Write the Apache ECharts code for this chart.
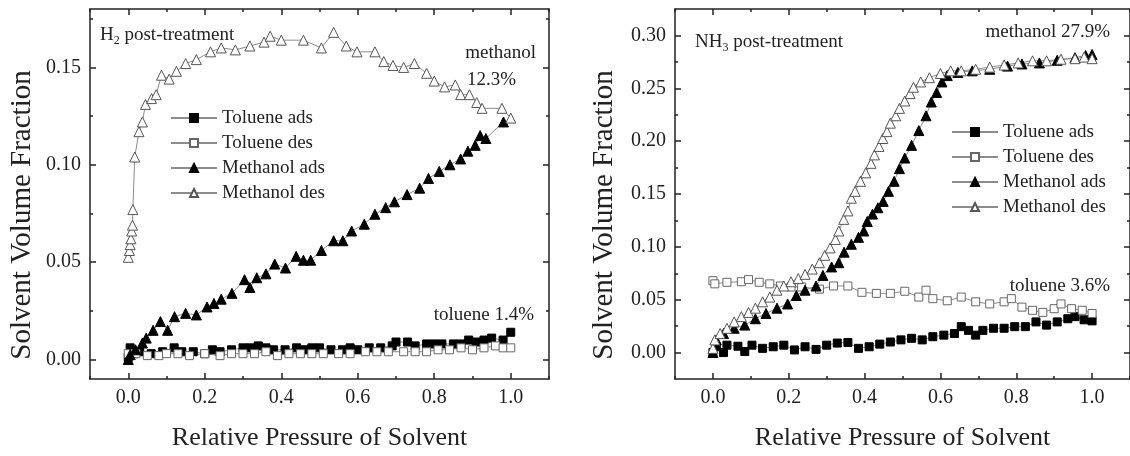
<!DOCTYPE html>
<html>
<head>
<meta charset="utf-8">
<script src="https://cdn.jsdelivr.net/npm/echarts@6/dist/echarts.min.js"></script>
<style>
  html, body { margin: 0; padding: 0; background: #fff; }
  #main { width: 1130px; height: 456px; }
</style>
</head>
<body>
<div id="main"></div>
<script>
// tick values
const xMajor = [0, 0.2, 0.4, 0.6, 0.8, 1.0];
const xMinor = [-0.1, 0.1, 0.3, 0.5, 0.7, 0.9, 1.1];
const yMajorH2 = [0, 0.05, 0.10, 0.15];
const yMinorH2 = [0.025, 0.075, 0.125, 0.175];
const yMajorNH3 = [0, 0.05, 0.10, 0.15, 0.20, 0.25, 0.30];
const yMinorNH3 = [0.025, 0.075, 0.125, 0.175, 0.225, 0.275];

const seriesNames = ["Toluene ads", "Toluene des", "Methanol ads", "Methanol des"];

// H2 post-treatment panel
const h2TolueneAds = [[0,0.001],[0.005,0.006],[0.015,0.003],[0.03,0.004],[0.06,0.003],[0.09,0.004],[0.12,0.006],[0.14,0.004],[0.17,0.004],[0.2,0.003],[0.22,0.005],[0.24,0.004],[0.27,0.005],[0.3,0.006],[0.32,0.006],[0.34,0.007],[0.36,0.006],[0.38,0.005],[0.41,0.005],[0.44,0.006],[0.46,0.005],[0.48,0.006],[0.5,0.006],[0.53,0.005],[0.56,0.005],[0.58,0.006],[0.6,0.005],[0.63,0.006],[0.66,0.006],[0.69,0.007],[0.7,0.009],[0.73,0.009],[0.75,0.007],[0.78,0.008],[0.8,0.008],[0.82,0.008],[0.85,0.008],[0.87,0.008],[0.89,0.010],[0.91,0.009],[0.93,0.010],[0.95,0.011],[0.98,0.010],[1.0,0.014]];
const h2TolueneDes = [[0,0.003],[0.02,0.003],[0.05,0.002],[0.08,0.002],[0.1,0.003],[0.13,0.003],[0.16,0.002],[0.2,0.003],[0.24,0.002],[0.27,0.003],[0.3,0.003],[0.33,0.003],[0.36,0.004],[0.39,0.002],[0.42,0.003],[0.45,0.003],[0.48,0.003],[0.51,0.003],[0.55,0.003],[0.58,0.003],[0.62,0.004],[0.65,0.004],[0.68,0.004],[0.72,0.004],[0.75,0.004],[0.78,0.004],[0.81,0.005],[0.84,0.005],[0.87,0.006],[0.9,0.005],[0.93,0.006],[0.96,0.007],[0.98,0.006],[1.0,0.006]];
const h2MethanolAds = [[0,0],[0.005,0.0025],[0.019,0.005],[0.037,0.0085],[0.047,0.011],[0.065,0.015],[0.084,0.0195],[0.103,0.015],[0.121,0.022],[0.15,0.0237],[0.178,0.0229],[0.206,0.027],[0.224,0.0288],[0.243,0.031],[0.271,0.034],[0.304,0.041],[0.318,0.037],[0.336,0.042],[0.36,0.044],[0.383,0.049],[0.411,0.047],[0.439,0.053],[0.458,0.051],[0.477,0.051],[0.505,0.056],[0.537,0.061],[0.561,0.061],[0.584,0.066],[0.617,0.0695],[0.645,0.0746],[0.673,0.078],[0.696,0.081],[0.729,0.0847],[0.762,0.088],[0.785,0.093],[0.813,0.0966],[0.841,0.1],[0.869,0.103],[0.888,0.107],[0.907,0.110],[0.92,0.115],[0.935,0.1135],[0.981,0.122]];
const h2MethanolDes = [[0,0.0525],[0.003,0.056],[0.005,0.059],[0.007,0.062],[0.009,0.066],[0.011,0.069],[0.012,0.077],[0.017,0.104],[0.028,0.117],[0.037,0.122],[0.045,0.131],[0.061,0.134],[0.073,0.136],[0.087,0.146],[0.107,0.144],[0.126,0.148],[0.15,0.152],[0.178,0.154],[0.215,0.158],[0.243,0.160],[0.28,0.159],[0.318,0.161],[0.355,0.163],[0.371,0.166],[0.40,0.164],[0.458,0.164],[0.505,0.160],[0.537,0.168],[0.57,0.161],[0.598,0.158],[0.645,0.158],[0.668,0.153],[0.692,0.151],[0.72,0.150],[0.748,0.152],[0.78,0.147],[0.80,0.143],[0.827,0.140],[0.855,0.141],[0.869,0.136],[0.892,0.136],[0.911,0.132],[0.925,0.129],[0.977,0.129],[1.0,0.124]];

// NH3 post-treatment panel
const nh3TolueneAds = [[0,0],[0.009,0.0055],[0.028,0],[0.037,0.007],[0.066,0.006],[0.084,0.001],[0.103,0.007],[0.131,0.004],[0.159,0.0055],[0.187,0.007],[0.215,0.0025],[0.243,0.0055],[0.272,0.003],[0.3,0.007],[0.328,0.009],[0.356,0.0095],[0.384,0.004],[0.412,0.0055],[0.44,0.008],[0.468,0.010],[0.496,0.012],[0.524,0.0135],[0.552,0.012],[0.58,0.015],[0.609,0.0165],[0.637,0.018],[0.655,0.0245],[0.674,0.021],[0.693,0.0165],[0.712,0.021],[0.74,0.023],[0.768,0.023],[0.796,0.0245],[0.824,0.0245],[0.852,0.029],[0.88,0.026],[0.908,0.029],[0.936,0.032],[0.955,0.034],[0.979,0.031],[1.0,0.030]];
const nh3TolueneDes = [[0,0.068],[0.005,0.065],[0.037,0.0665],[0.075,0.067],[0.094,0.069],[0.122,0.0665],[0.15,0.065],[0.178,0.063],[0.206,0.062],[0.234,0.062],[0.281,0.060],[0.318,0.063],[0.356,0.063],[0.393,0.057],[0.431,0.056],[0.468,0.056],[0.506,0.058],[0.543,0.0525],[0.562,0.059],[0.58,0.051],[0.618,0.049],[0.655,0.0525],[0.693,0.048],[0.73,0.046],[0.768,0.048],[0.787,0.051],[0.815,0.043],[0.843,0.040],[0.87,0.038],[0.9,0.0415],[0.918,0.046],[0.946,0.0415],[0.974,0.040],[1.0,0.037]];
const nh3MethanolAds = [[0,0],[0.009,0.012],[0.028,0.018],[0.056,0.023],[0.084,0.026],[0.112,0.032],[0.14,0.037],[0.169,0.042],[0.197,0.046],[0.22,0.054],[0.243,0.059],[0.272,0.063],[0.29,0.073],[0.313,0.081],[0.332,0.085],[0.346,0.095],[0.365,0.1025],[0.384,0.109],[0.398,0.115],[0.407,0.124],[0.421,0.131],[0.435,0.137],[0.449,0.143],[0.463,0.1525],[0.478,0.162],[0.492,0.174],[0.506,0.184],[0.524,0.196],[0.543,0.21],[0.562,0.224],[0.576,0.237],[0.59,0.246],[0.604,0.256],[0.618,0.262],[0.646,0.265],[0.684,0.2665],[0.73,0.268],[0.777,0.271],[0.815,0.273],[0.861,0.274],[0.908,0.2765],[0.955,0.279],[0.983,0.281],[1.0,0.282]];
const nh3MethanolDes = [[0,0.004],[0.005,0.012],[0.019,0.018],[0.037,0.023],[0.056,0.029],[0.075,0.034],[0.094,0.038],[0.112,0.042],[0.131,0.048],[0.15,0.0525],[0.169,0.059],[0.187,0.063],[0.206,0.067],[0.225,0.07],[0.243,0.074],[0.262,0.079],[0.281,0.085],[0.295,0.092],[0.309,0.099],[0.323,0.107],[0.332,0.115],[0.345,0.126],[0.356,0.134],[0.365,0.146],[0.375,0.1525],[0.389,0.162],[0.403,0.170],[0.417,0.179],[0.426,0.187],[0.438,0.195],[0.448,0.2025],[0.459,0.209],[0.468,0.217],[0.482,0.224],[0.492,0.231],[0.506,0.238],[0.52,0.245],[0.529,0.251],[0.548,0.256],[0.571,0.260],[0.6,0.264],[0.627,0.2665],[0.655,0.2665],[0.693,0.268],[0.73,0.27],[0.768,0.272],[0.805,0.274],[0.843,0.276],[0.88,0.276],[0.918,0.2775],[0.955,0.278],[0.979,0.2795],[1.0,0.278]];

const FONT = "Liberation Serif";
const INK = "#222";
const LINE = "#8c8c8c";

let myChart = echarts.init(document.getElementById("main"));

// build the axes (major + minor, both sides) for one direction of one grid
function makeAxes(grid, min, max, major, minor, sides, isX, fmt, name, nameGap, namePad) {
  let axes = [];
  sides.forEach((side, i) => {
    let base = {
      gridIndex: grid, type: "value", min: min, max: max, position: side,
      splitLine: { show: false },
    };
    axes.push(Object.assign({}, base, {
      axisLine: { show: true, onZero: false, lineStyle: { color: INK, width: 1.5 } },
      axisTick: { show: true, inside: true, length: 6, customValues: major, lineStyle: { color: INK, width: 1.5 } },
      axisLabel: i === 0
        ? { show: true, customValues: major, formatter: fmt, fontFamily: FONT, fontSize: 20, color: INK, margin: 9 }
        : { show: false },
      name: i === 0 ? name : "",
      nameLocation: "middle",
      nameGap: nameGap,
      nameTextStyle: { fontFamily: FONT, fontSize: isX ? 26 : 29, color: INK, padding: namePad },
    }));
    axes.push(Object.assign({}, base, {
      axisLine: { show: false, onZero: false },
      axisTick: { show: true, inside: true, length: 3, customValues: minor, lineStyle: { color: INK, width: 1.5 } },
      axisLabel: { show: false },
    }));
  });
  return axes;
}

let xFmt = (v) => v.toFixed(1);
let yFmt = (v) => v.toFixed(2);

let xAxes = [].concat(
  makeAxes(0, -0.1, 1.1, xMajor, xMinor, ["bottom", "top"], true, xFmt, "Relative Pressure of Solvent", 46, 0),
  makeAxes(1, -0.1, 1.1, xMajor, xMinor, ["bottom", "top"], true, xFmt, "Relative Pressure of Solvent", 46, 0)
);
let yAxes = [].concat(
  makeAxes(0, -0.01, 0.18, yMajorH2, yMinorH2, ["left", "right"], false, yFmt, "Solvent Volume Fraction", 53, [0, 42, 0, 0]),
  makeAxes(1, -0.025, 0.325, yMajorNH3, yMinorNH3, ["left", "right"], false, yFmt, "Solvent Volume Fraction", 56, [0, 42, 0, 0])
);

function makeSeries(grid, data) {
  let styles = [
    { symbol: "rect", size: 8, fill: "#000", border: "#000" },
    { symbol: "rect", size: 8, fill: "#fff", border: "#666" },
    { symbol: "triangle", size: 10, fill: "#000", border: "#000" },
    { symbol: "triangle", size: 10, fill: "#fff", border: "#555" },
  ];
  return data.map((d, i) => ({
    name: seriesNames[i],
    type: "line",
    xAxisIndex: grid * 4,
    yAxisIndex: grid * 4,
    data: d,
    symbol: styles[i].symbol,
    symbolSize: styles[i].size,
    showSymbol: true,
    lineStyle: { color: LINE, width: 1 },
    itemStyle: { color: styles[i].fill, borderColor: styles[i].border, borderWidth: 1 },
    emphasis: { disabled: true },
  }));
}

let legendBase = {
  orient: "vertical",
  data: seriesNames,
  itemWidth: 46,
  itemHeight: 10,
  itemGap: 5,
  padding: 0,
  textStyle: { fontFamily: FONT, fontSize: 19, color: INK, lineHeight: 20 },
};

function label(x, y, text, align) {
  return {
    type: "text", x: x, y: y,
    style: { text: text, fontFamily: FONT, fontSize: 19, fill: INK, align: align || "left", verticalAlign: "middle" },
  };
}
function richLabel(x, y, main, sub, rest) {
  return {
    type: "text", x: x, y: y,
    style: {
      text: "{a|" + main + "}{s|" + sub + "}{a|" + rest + "}",
      verticalAlign: "middle",
      rich: {
        a: { fontFamily: FONT, fontSize: 19, fill: INK, lineHeight: 24 },
        s: { fontFamily: FONT, fontSize: 12, fill: INK, lineHeight: 24, verticalAlign: "bottom" },
      },
    },
  };
}

let options = {
  backgroundColor: "#fff",
  animation: false,
  grid: [
    { left: 90, top: 9, width: 459, height: 373 },
    { left: 675, top: 9, width: 458, height: 373 },
  ],
  xAxis: xAxes,
  yAxis: yAxes,
  legend: [
    Object.assign({ left: 170, top: 108 }, legendBase),
    Object.assign({ left: 951, top: 122 }, legendBase),
  ],
  graphic: [
    richLabel(100, 35, "H", "2", " post-treatment"),
    label(536, 53, "methanol", "right"),
    label(516, 80, "12.3%", "right"),
    label(534, 315, "toluene 1.4%", "right"),
    richLabel(695, 42, "NH", "3", " post-treatment"),
    label(1110, 32, "methanol 27.9%", "right"),
    label(1110, 286, "toluene 3.6%", "right"),
  ],
  series: [].concat(
    makeSeries(0, [h2TolueneAds, h2TolueneDes, h2MethanolAds, h2MethanolDes]),
    makeSeries(1, [nh3TolueneAds, nh3TolueneDes, nh3MethanolAds, nh3MethanolDes])
  ),
};

myChart.setOption(options);
</script>
</body>
</html>
